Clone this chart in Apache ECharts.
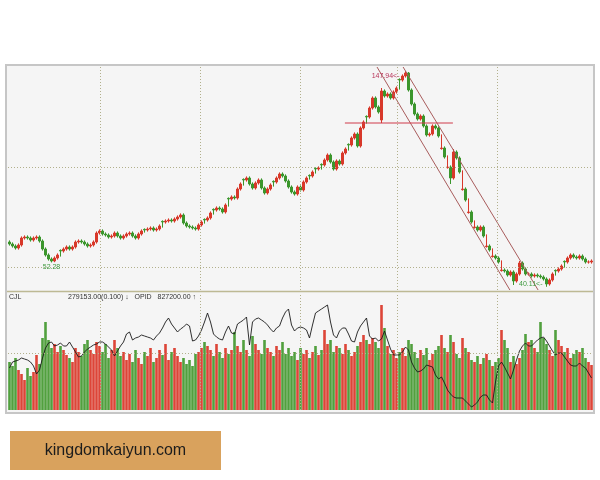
<!DOCTYPE html>
<html>
<head>
<meta charset="utf-8">
<script src="https://cdn.jsdelivr.net/npm/echarts@6/dist/echarts.min.js"></script>
<style>
  html, body { margin: 0; padding: 0; background: #ffffff; }
  #chart { width: 600px; height: 480px; }
</style>
</head>
<body>
<div id="chart"></div>
<script>
// Daily bars: open / close / low / high
const opens = [
  62.5,61.5,60.5,59.5,61.0,64.5,65.0,64.5,63.5,64.5,
  65.0,63.0,59.0,56.0,54.0,53.0,54.5,58.3,58.0,59.0,
  60.0,59.0,60.0,62.5,63.0,62.5,61.5,60.5,61.0,62.5,
  67.0,68.0,66.5,66.0,65.0,65.5,67.0,65.5,64.5,65.5,
  66.5,67.0,65.5,64.5,66.5,68.8,68.5,69.0,69.5,68.5,
  69.0,72.8,72.5,73.0,73.5,73.0,74.0,75.0,76.0,72.0,
  70.5,70.0,69.5,69.0,71.0,73.8,73.5,74.5,78.8,78.5,
  79.5,79.0,77.5,84.3,84.0,85.0,84.5,89.0,93.8,93.5,
  94.5,91.5,89.5,92.0,93.5,89.5,87.0,89.0,92.8,92.5,
  94.5,96.5,95.5,93.0,90.0,87.5,86.5,90.0,88.5,92.5,
  95.8,95.5,99.3,99.0,101.3,101.0,103.5,106.0,102.5,99.0,
  103.0,101.5,107.0,111.3,111.0,114.5,116.5,110.5,119.5,125.3,
  125.0,129.5,134.5,130.0,123.5,138.0,135.5,136.5,134.5,137.5,
  143.8,143.5,145.5,147.0,138.5,131.5,126.5,124.0,125.5,120.5,
  116.0,116.5,120.5,119.5,109.2,109.5,99.7,100.0,94.5,107.5,
  104.5,88.7,89.0,77.2,77.5,69.7,70.0,68.5,70.0,60.2,
  60.5,55.2,55.5,54.5,48.2,48.5,48.0,46.0,47.5,43.0,
  46.5,52.0,49.0,46.5,46.5,45.5,46.0,45.5,45.0,44.0,
  41.5,43.5,48.3,48.0,49.0,52.8,52.5,54.5,56.0,55.0,
  54.5,55.5,54.0,52.5,52.5
];
const closes = [
  61.5,60.5,59.5,61.0,64.5,65.0,64.5,63.5,64.5,65.0,
  63.0,59.0,56.0,54.0,53.0,54.5,56.0,58.0,59.0,60.0,
  59.0,60.0,62.5,63.0,62.5,61.5,60.5,61.0,62.5,67.0,
  68.0,66.5,66.0,65.0,65.5,67.0,65.5,64.5,65.5,66.5,
  67.0,65.5,64.5,66.5,68.0,68.5,69.0,69.5,68.5,69.0,
  70.5,72.5,73.0,73.5,73.0,74.0,75.0,76.0,72.0,70.5,
  70.0,69.5,69.0,71.0,72.5,73.5,74.5,77.0,78.5,79.5,
  79.0,77.5,81.0,84.0,85.0,84.5,89.0,91.5,93.5,94.5,
  91.5,89.5,92.0,93.5,89.5,87.0,89.0,91.0,92.5,94.5,
  96.5,95.5,93.0,90.0,87.5,86.5,90.0,88.5,92.5,94.5,
  95.5,97.5,99.0,99.5,101.0,103.5,106.0,102.5,99.0,103.0,
  101.5,107.0,109.0,111.0,114.5,116.5,110.5,119.5,122.5,125.0,
  129.5,134.5,130.0,127.5,138.0,135.5,136.5,134.5,137.5,139.5,
  143.5,145.5,147.0,138.5,131.5,126.5,124.0,125.5,120.5,116.0,
  116.5,120.5,119.5,115.5,109.5,105.0,100.0,94.5,107.5,104.5,
  97.5,89.0,83.5,77.5,72.5,70.0,68.5,70.0,65.5,60.5,
  58.5,55.5,54.5,52.5,48.5,48.0,46.0,47.5,43.0,46.5,
  52.0,49.0,46.5,46.5,45.5,46.0,45.5,45.0,44.0,41.5,
  43.5,46.5,48.0,49.0,50.5,52.5,54.5,56.0,55.0,54.5,
  55.5,54.0,52.5,52.5,53.0
];
const lows = [
  60.7,59.7,58.7,58.7,60.2,63.7,63.7,62.7,62.7,63.7,
  62.2,58.2,55.2,53.2,52.28,52.4,53.7,55.2,57.2,58.2,
  58.2,58.2,59.2,61.7,61.7,60.7,59.7,59.7,60.2,61.7,
  66.2,65.7,65.2,64.2,64.2,64.7,64.7,63.7,63.7,64.7,
  65.7,64.7,63.7,63.7,65.7,67.2,67.7,68.2,67.7,67.7,
  68.2,69.7,71.7,72.2,72.2,72.2,73.2,74.2,71.2,69.7,
  69.2,68.7,68.2,68.2,70.2,71.7,72.7,73.7,76.2,77.7,
  78.2,76.7,76.7,80.2,83.2,83.7,83.7,88.2,90.7,92.7,
  90.7,88.7,88.7,91.2,88.7,86.2,86.2,88.2,90.2,91.7,
  93.7,94.7,92.2,89.2,86.7,85.7,85.7,87.7,87.7,91.7,
  93.7,94.7,96.7,98.2,98.7,100.2,102.7,101.7,98.2,98.2,
  100.7,100.7,106.2,108.2,110.2,113.7,109.7,109.7,118.7,121.7,
  124.2,128.7,129.2,126.7,122.0,134.7,134.7,133.7,133.7,136.7,
  138.7,142.7,144.7,137.7,130.7,125.7,123.2,123.2,119.7,115.2,
  115.2,115.7,118.7,114.7,108.7,104.2,99.2,91.5,93.7,103.7,
  96.7,88.2,82.7,76.7,71.7,69.2,67.7,67.7,64.7,59.7,
  57.7,54.7,53.7,51.7,47.7,47.2,45.2,45.2,41.0,42.2,
  45.7,48.2,45.7,45.7,44.7,44.7,44.7,44.2,43.2,40.11,
  40.7,42.7,45.7,47.2,48.2,49.7,51.7,53.7,54.2,53.7,
  53.7,53.2,51.7,51.7,51.7
];
const highs = [
  63.3,62.3,61.3,61.8,65.3,65.8,65.8,65.3,65.3,65.8,
  65.8,63.8,59.8,56.8,54.8,55.3,56.8,58.8,59.8,60.8,
  60.8,60.8,63.3,63.8,63.8,63.3,62.3,61.8,63.3,67.8,
  68.8,68.8,67.3,66.8,66.3,67.8,67.8,66.3,66.3,67.3,
  67.8,67.8,66.3,67.3,68.8,69.3,69.8,70.3,70.3,69.8,
  71.3,73.3,73.8,74.3,74.3,74.8,75.8,76.8,76.8,72.8,
  71.3,70.8,70.3,71.8,73.3,74.3,75.3,77.8,79.3,80.3,
  80.3,79.8,81.8,84.8,85.8,85.8,89.8,92.3,94.3,95.3,
  95.3,92.3,92.8,94.3,94.3,90.3,89.8,91.8,93.3,95.3,
  97.3,97.3,96.3,93.8,90.8,88.3,90.8,90.8,93.3,95.3,
  96.3,98.3,99.8,100.3,101.8,104.3,106.8,106.8,103.3,103.8,
  103.8,107.8,109.8,111.8,115.3,117.3,117.3,120.3,123.3,125.8,
  130.3,135.3,135.3,130.8,139.5,138.8,137.3,137.3,138.3,140.3,
  144.3,146.3,147.94,147.5,139.3,132.3,127.3,126.3,126.3,121.3,
  117.3,121.3,121.3,120.3,116.3,110.3,105.8,100.8,109.0,108.3,
  105.3,98.3,89.8,84.3,78.3,73.3,70.8,70.8,70.8,66.3,
  61.3,59.3,56.3,55.3,53.3,49.3,48.8,48.3,48.3,47.3,
  53.0,52.8,49.8,47.3,47.3,46.8,46.8,46.3,45.8,44.8,
  44.3,47.3,48.8,49.8,51.3,53.3,55.3,56.8,56.8,55.8,
  56.3,56.3,54.8,53.3,53.8
];
// Volume (CJL) and the OPID line, in the lower panel's units
const volumes = [
  48,44,52,40,36,30,42,34,38,55,
  46,72,88,70,62,66,58,64,60,55,
  52,48,62,58,54,66,70,60,56,68,
  64,58,66,52,60,70,62,54,58,50,
  56,48,60,52,46,58,54,62,48,52,
  60,55,66,50,58,62,54,48,52,46,
  50,44,56,58,62,68,64,60,54,66,
  58,52,62,56,60,78,64,58,70,60,
  54,74,66,60,56,70,62,58,54,64,
  60,68,56,62,54,58,50,62,56,60,
  52,58,64,55,60,80,66,70,58,64,
  62,56,66,60,54,58,64,68,75,70,
  66,72,68,62,105,82,64,56,60,52,
  58,62,54,70,66,58,52,60,55,62,
  50,56,60,64,75,62,58,75,68,56,
  52,72,62,58,50,48,54,46,52,56,
  50,44,48,52,80,70,62,48,54,46,
  52,60,76,68,70,62,58,88,72,66,
  60,54,80,70,64,58,62,52,56,60,
  58,62,52,48,45
];
const opid = [
  42,48,49,50,52,51,50,48,44,36,
  40,52,62,67,68,64,65,67,64,64,
  68,63,58,53,54,58,61,63,65,66,
  68,68,66,63,60,54,59,64,68,76,
  78,70,72,73,75,74,73,72,70,74,
  77,82,88,92,86,82,78,81,83,86,
  84,69,70,74,80,88,97,88,76,73,
  71,70,78,84,77,76,86,88,90,93,
  65,88,91,92,90,88,85,81,78,82,
  84,92,98,101,85,79,82,83,82,80,
  72,85,97,99,101,103,105,88,75,72,
  79,82,82,76,69,68,78,84,88,92,
  74,71,72,69,71,79,70,61,55,55,
  55,58,63,60,48,42,38,39,41,45,
  44,43,35,31,33,27,20,16,13,12,
  12,12,9,6,3,5,8,13,15,15,
  10,7,28,44,48,43,37,31,40,50,
  59,64,67,64,64,67,70,72,73,69,
  64,59,55,57,57,53,49,45,44,44,
  47,44,42,37,32
];
const days = closes.map((_, i) => String(i + 1));

// Month dividers (bar positions) and dotted price / volume levels
const monthMarks = [30.17, 63.5, 96.83, 129.17, 162.5];
const priceLevels = [50, 100];
const volumeLevels = [57];

// Hand-drawn channel and support line, as [bar position, price]
const channelUpper = [[131.2, 150], [176.2, 38.5]];
const channelLower = [[122.5, 150], [166.8, 38.5]];
const supportLine = [[111.8, 122], [147.8, 122]];

// Extremes marked on the price panel
const peakIdx = 132, troughIdx = 14, bottomIdx = 179;

const UP = '#d8382a', DOWN = '#3b962c';
const VOL_UP = '#d92c1e', VOL_DOWN = '#3a9424';
const DOT = { color: '#b2b08c', width: 1, type: [1, 2] };

const chart = echarts.init(document.getElementById('chart'), null, { renderer: 'canvas' });

const candleData = days.map((_, i) => [opens[i], closes[i], lows[i], highs[i]]);
const volData = volumes.map((v, i) => ({
  value: v,
  itemStyle: { color: closes[i] >= opens[i] ? VOL_UP : VOL_DOWN }
}));

const guideLines = (levels, marks) => ({
  silent: true,
  symbol: ['none', 'none'],
  label: { show: false },
  lineStyle: DOT,
  emphasis: { disabled: true },
  data: [
    ...marks.map(v => ({ xAxis: v })),
    ...levels.map(v => ({ yAxis: v }))
  ]
});

const smallFont = 'Liberation Sans, Arial, sans-serif';

chart.setOption({
  animation: false,
  backgroundColor: '#ffffff',
  grid: [
    { left: 8, right: 7, top: 67, height: 223 },
    { left: 8, right: 7, top: 293, height: 117 }
  ],
  xAxis: [
    { type: 'category', gridIndex: 0, data: days, show: false },
    { type: 'category', gridIndex: 1, data: days, show: false },
    { type: 'value', gridIndex: 0, min: -0.5, max: days.length - 0.5, show: false },
    { type: 'value', gridIndex: 1, min: -0.5, max: days.length - 0.5, show: false }
  ],
  yAxis: [
    { type: 'value', gridIndex: 0, min: 38.5, max: 150, show: false, splitLine: { show: false } },
    { type: 'value', gridIndex: 1, min: 0, max: 117, show: false, splitLine: { show: false } }
  ],
  graphic: [
    { type: 'rect', z: 0, shape: { x: 6, y: 65, width: 588, height: 348 },
      style: { fill: '#f5f5f5', stroke: '#c6c6c6', lineWidth: 2 } },
    { type: 'line', z: 5, shape: { x1: 7, y1: 291.5, x2: 593, y2: 291.5 },
      style: { stroke: '#bdb994', lineWidth: 1.5 } },
    { type: 'text', z: 6, x: 9, y: 294,
      style: { text: 'CJL', fill: '#333', font: '7px ' + smallFont } },
    { type: 'text', z: 6, x: 68, y: 294,
      style: { text: '279153.00(0.100) \u2193   OPID   827200.00 \u2191', fill: '#333', font: '7px ' + smallFont } },
    { type: 'rect', z: 6, shape: { x: 10, y: 431, width: 211, height: 39 },
      style: { fill: '#d9a25d' } },
    { type: 'text', z: 7, x: 115.5, y: 450.5,
      style: { text: 'kingdomkaiyun.com', fill: '#1c1c1c', font: '16px Liberation Sans, Arial, sans-serif',
               align: 'center', verticalAlign: 'middle' } }
  ],
  series: [
    {
      name: 'guides-price', type: 'line', xAxisIndex: 2, yAxisIndex: 0, z: 1,
      data: [], markLine: guideLines(priceLevels, monthMarks)
    },
    {
      name: 'guides-volume', type: 'line', xAxisIndex: 3, yAxisIndex: 1, z: 1,
      data: [], markLine: guideLines(volumeLevels, monthMarks)
    },
    {
      name: 'CJL', type: 'bar', xAxisIndex: 1, yAxisIndex: 1, z: 2,
      barWidth: 2.6, data: volData,
      itemStyle: { opacity: 0.88 }
    },
    {
      name: 'OPID', type: 'line', xAxisIndex: 1, yAxisIndex: 1, z: 3,
      data: opid, symbol: 'none', lineStyle: { color: '#1a1a1a', width: 0.9 }
    },
    {
      name: 'K', type: 'candlestick', xAxisIndex: 0, yAxisIndex: 0, z: 3,
      barWidth: 2, data: candleData,
      itemStyle: { color: UP, color0: DOWN, borderColor: UP, borderColor0: DOWN, borderWidth: 1 },
      markPoint: {
        symbol: 'circle', symbolSize: 0, silent: true,
        label: { fontFamily: smallFont, fontSize: 7 },
        data: [
          { coord: [days[peakIdx], highs[peakIdx]], value: highs[peakIdx],
            label: { position: 'left', distance: 8, offset: [2, 5], color: '#b8345a', formatter: '{c}<-' } },
          { coord: [days[troughIdx], lows[troughIdx]], value: lows[troughIdx],
            label: { position: 'bottom', distance: 1, color: '#3f9a3f', formatter: '{c}' } },
          { coord: [days[bottomIdx], lows[bottomIdx]], value: lows[bottomIdx],
            label: { position: 'left', distance: 4, offset: [0, -3], color: '#3f9a3f', formatter: '{c}<-' } }
        ]
      }
    },
    {
      name: 'channel-upper', type: 'line', xAxisIndex: 2, yAxisIndex: 0, z: 4,
      data: channelUpper, symbol: 'none', lineStyle: { color: '#a85c5c', width: 1 }
    },
    {
      name: 'channel-lower', type: 'line', xAxisIndex: 2, yAxisIndex: 0, z: 4,
      data: channelLower, symbol: 'none', lineStyle: { color: '#a85c5c', width: 1 }
    },
    {
      name: 'support', type: 'line', xAxisIndex: 2, yAxisIndex: 0, z: 4,
      data: supportLine, symbol: 'none', lineStyle: { color: '#cf3a4a', width: 1 }
    }
  ]
});
</script>
</body>
</html>
